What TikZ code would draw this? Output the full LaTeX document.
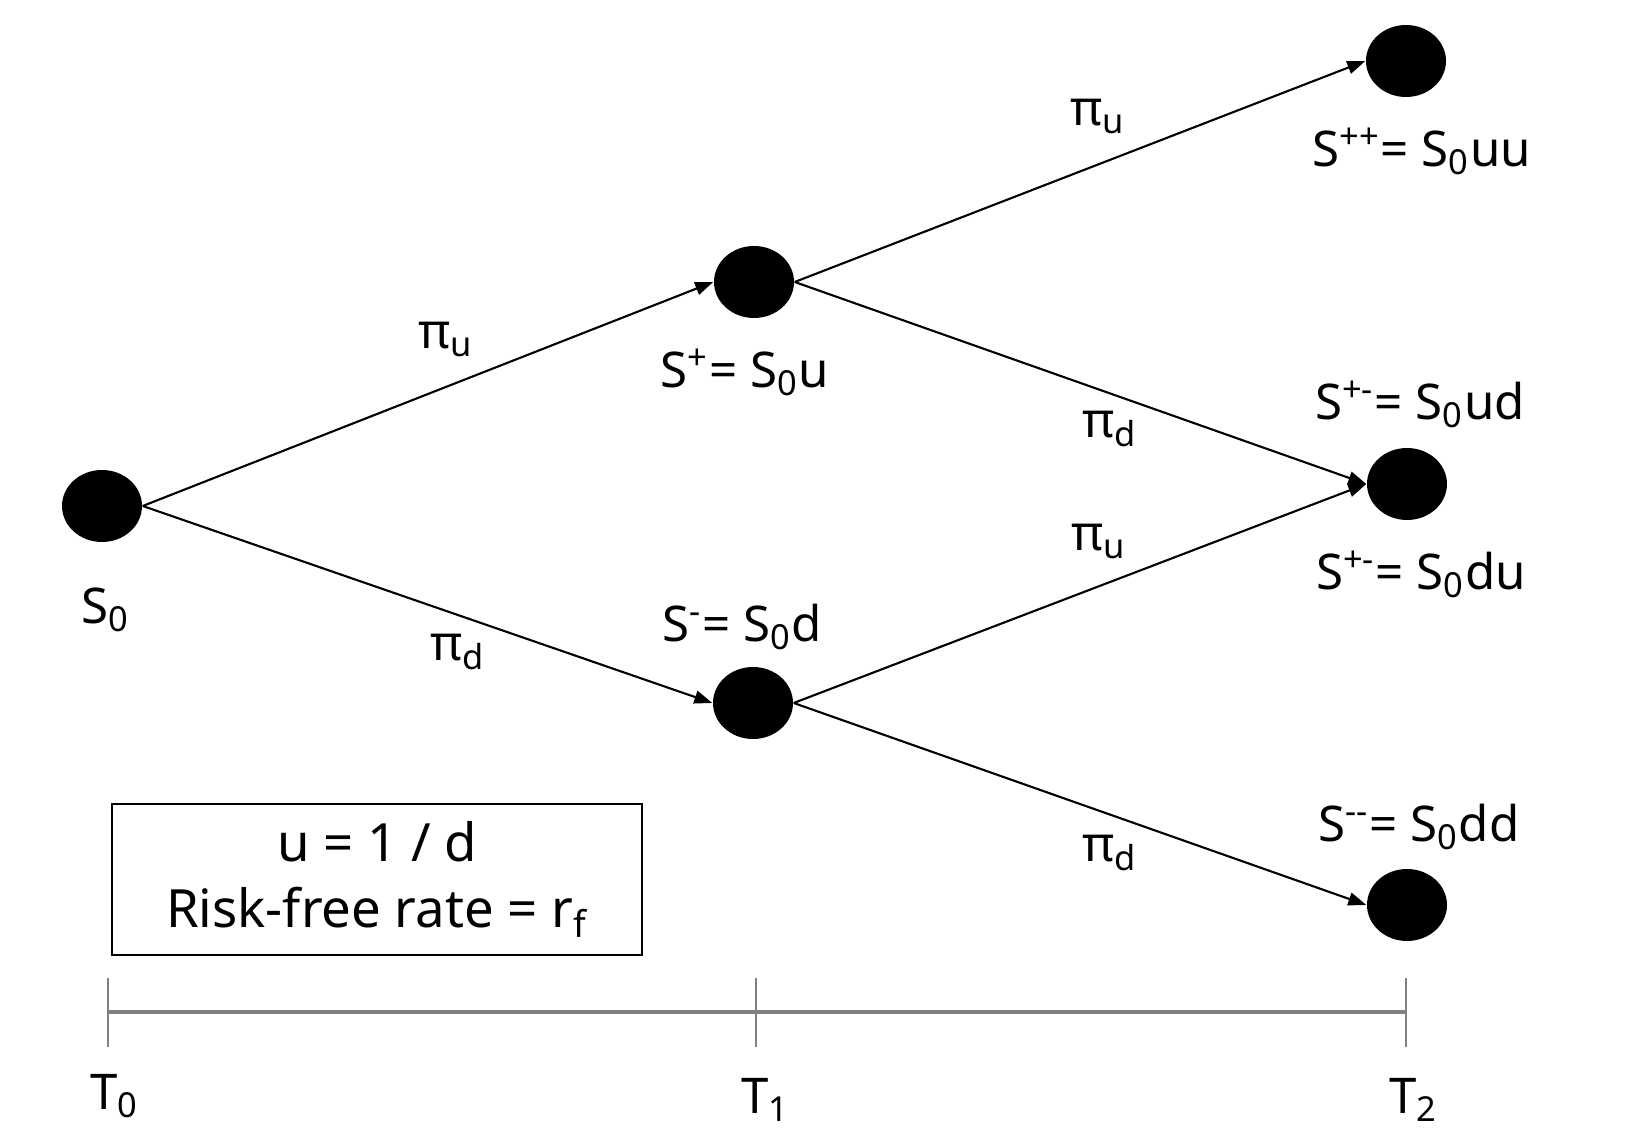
\documentclass[tikz,border=0pt]{standalone}
\usepackage{fontspec}
\setmainfont{Noto Sans}
\usepackage{tikz}
\usetikzlibrary{arrows.meta, calc, positioning, shapes.geometric}

\begin{document}
\begin{tikzpicture}[x=1cm, y=1cm,
    state/.style={ellipse, fill=black, inner sep=0pt, minimum width=0.80cm, minimum height=0.72cm},
    branch/.style={line width=0.6pt, -{Triangle[length=1.8mm, width=1.3mm]}},
    lbl/.style={anchor=base, inner sep=0pt, font=\fontsize{14}{17}\selectfont},
    notebox/.style={draw, line width=0.6pt, align=center, minimum width=5.30cm, minimum height=1.51cm, font=\fontsize{15}{18.8}\selectfont},
    axisline/.style={gray, line width=0.9pt},
    axistick/.style={gray, line width=0.4pt}]
    \useasboundingbox (0,0) rectangle (16.45,11.46);

    % 节点
    \node[state] (s0)  at (1.02, 6.40) {};
    \node[state] (su)  at (7.54, 8.64) {};
    \node[state] (sd)  at (7.53, 4.43) {};
    \node[state] (suu) at (14.06,10.85) {};
    \node[state] (sud) at (14.07, 6.62) {};
    \node[state] (sdd) at (14.07, 2.41) {};

    % 分支
    \foreach \a/\b in {s0/su, s0/sd, su/suu, su/sud, sd/sud, sd/sdd}
        \draw[branch] (\a.east) -- (\b.west);

    % 价格
    \node[lbl] (ls0)  at (1.06, 5.22) {S\textsubscript{0}};
    \node[lbl] (lsu)  at (7.45, 7.58) {S\textsuperscript{+}= S\textsubscript{0}u};
    \node[lbl] (lsd)  at (7.42, 5.04) {S\textsuperscript{-}= S\textsubscript{0}d};
    \node[lbl] (lsuu) at (14.22,9.79) {S\textsuperscript{++}= S\textsubscript{0}uu};
    \node[lbl] (lsud) at (14.20,7.26) {S\textsuperscript{+-}= S\textsubscript{0}ud};
    \node[lbl] (lsdu) at (14.21,5.56) {S\textsuperscript{+-}= S\textsubscript{0}du};
    \node[lbl] (lsdd) at (14.19,3.04) {S\textsuperscript{-{}-}= S\textsubscript{0}dd};

    % 概率
    \node[lbl] (pu1) at (4.46, 7.97) {π\textsubscript{u}};
    \node[lbl] (pd1) at (4.58, 4.85) {π\textsubscript{d}};
    \node[lbl] (pu2) at (10.98,10.20) {π\textsubscript{u}};
    \node[lbl] (pd2) at (11.10, 7.08) {π\textsubscript{d}};
    \node[lbl] (pu3) at (10.99, 5.95) {π\textsubscript{u}};
    \node[lbl] (pd3) at (11.10, 2.84) {π\textsubscript{d}};

    % 说明
    \node[notebox] (note) at (3.77, 2.665) {u = 1 / d\\Risk-free rate = r\textsubscript{f}};

    % 时间轴
    \foreach \i/\x/\tx/\ty in {0/1.08/1.15/0.36, 1/7.56/7.66/0.32, 2/14.06/14.14/0.32} {
        \coordinate (t\i) at (\x, 1.34);
        \draw[axistick] (\x, 0.99) -- (\x, 1.68);
        \node[lbl] (T\i) at (\tx, \ty) {T\textsubscript{\i}};
    }
    \draw[axisline] (t0) -- (t1) -- (t2);
\end{tikzpicture}
\end{document}
